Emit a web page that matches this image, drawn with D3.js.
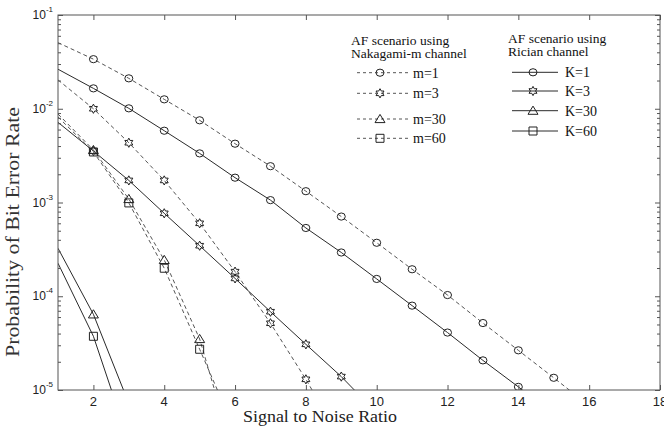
<!DOCTYPE html>
<html>
<head>
<meta charset="utf-8">
<script src="https://cdn.jsdelivr.net/npm/d3@7"></script>
<style>
  body { margin: 0; background: #fff; }
  svg { display: block; }
</style>
</head>
<body>
<svg id="plot" width="664" height="427"></svg>
<script>
// SNR grid and BER values
const snr = [1, 2, 3, 4, 5, 6, 7, 8, 9, 10, 11, 12, 13, 14, 15, 16];

const berNakagamiM1  = [0.0507, 0.0338, 0.0211, 0.0126, 0.00753, 0.00424, 0.00244, 0.00132, 7.08e-4, 3.72e-4, 1.94e-4, 1.03e-4, 5.18e-5, 2.65e-5, 1.35e-5, 6.8e-6];
const berNakagamiM3  = [0.0203, 0.0100, 0.00434, 0.00172, 6.0e-4, 1.83e-4, 5.15e-5, 1.30e-5, 2.9e-6];
const berNakagamiM30 = [0.00879, 0.00363, 1.09e-3, 2.44e-4, 3.5e-5, 1.8e-6];
const berNakagamiM60 = [0.00817, 0.00346, 9.9e-4, 1.99e-4, 2.72e-5, 3.7e-6];

const berRicianK1  = [0.0264, 0.0165, 0.0101, 0.00583, 0.00334, 0.00184, 0.00106, 5.35e-4, 2.93e-4, 1.53e-4, 7.94e-5, 4.10e-5, 2.07e-5, 1.08e-5, 5.5e-6];
const berRicianK3  = [0.00716, 0.00354, 0.00172, 7.67e-4, 3.46e-4, 1.55e-4, 6.84e-5, 3.07e-5, 1.39e-5, 5.7e-6];
const berRicianK30 = [3.25e-4, 6.41e-5, 7.2e-6];
const berRicianK60 = [2.25e-4, 3.74e-5, 2.8e-6];

const nakagamiLabels = ["m=1", "m=3", "m=30", "m=60"];
const ricianLabels = ["K=1", "K=3", "K=30", "K=60"];
const markerTypes = ["circle", "hexagram", "triangle", "square"];

const xTicks = [2, 4, 6, 8, 10, 12, 14, 16, 18];
const yTicks = [1e-5, 1e-4, 1e-3, 1e-2, 1e-1];
const yTickExp = ["-5", "-4", "-3", "-2", "-1"];

const series = [
  ...[berNakagamiM1, berNakagamiM3, berNakagamiM30, berNakagamiM60].map((v, i) =>
    ({ label: nakagamiLabels[i], marker: markerTypes[i], dashed: true, values: v })),
  ...[berRicianK1, berRicianK3, berRicianK30, berRicianK60].map((v, i) =>
    ({ label: ricianLabels[i], marker: markerTypes[i], dashed: false, values: v }))
];

const m = { left: 58, right: 660, top: 15, bottom: 390 };

const svg = d3.select("#plot");

const x = d3.scaleLinear().domain([1, 18]).range([m.left, m.right]);
const y = d3.scaleLog().domain([1e-5, 1e-1]).range([m.bottom, m.top]);

// marker shapes
function markerPath(type) {
  if (type === "square") return "M-4,-4H4V4H-4Z";
  if (type === "triangle") return "M0,-4.6L5,3.6L-5,3.6Z";
  // six pointed star
  const pts = [];
  for (let i = 0; i < 12; i++) {
    const a = (i * 30 - 90) * Math.PI / 180;
    const r = i % 2 ? 2.6 : 4.6;
    pts.push([r * Math.cos(a), r * Math.sin(a)]);
  }
  return "M" + pts.map(p => p[0].toFixed(2) + "," + p[1].toFixed(2)).join("L") + "Z";
}

function drawMarker(g, type, cx, cy) {
  if (type === "circle") {
    g.append("ellipse").attr("cx", cx).attr("cy", cy).attr("rx", 4).attr("ry", 3.6)
      .attr("fill", "none").attr("stroke", "#222").attr("stroke-width", 1);
  } else {
    g.append("path").attr("d", markerPath(type))
      .attr("transform", "translate(" + cx + "," + cy + ")")
      .attr("fill", "none").attr("stroke", "#222").attr("stroke-width", 1);
  }
}

svg.append("clipPath").attr("id", "clip")
  .append("rect").attr("x", m.left).attr("y", m.top)
  .attr("width", m.right - m.left).attr("height", m.bottom - m.top);

//----------------------------- curves -----------------------------
const line = d3.line().x(d => x(d[0])).y(d => y(d[1]));
const curves = svg.append("g").attr("clip-path", "url(#clip)");

series.forEach(s => {
  const pts = s.values.map((v, i) => [snr[i], v]);
  curves.append("path")
    .attr("d", line(pts))
    .attr("fill", "none")
    .attr("stroke", s.dashed ? "#555" : "#2a2a2a")
    .attr("stroke-width", 1)
    .attr("stroke-dasharray", s.dashed ? "4,3" : null);
  pts.filter(p => p[0] >= 2 && p[1] >= 1e-5)
    .forEach(p => drawMarker(curves, s.marker, x(p[0]), y(p[1])));
});

//----------------------------- axes -----------------------------
const axisColor = "#555";
const minor = [];
for (let e = -5; e < -1; e++) for (let k = 2; k <= 9; k++) minor.push(k * Math.pow(10, e));

function styleAxis(g) {
  g.select(".domain").remove();
  g.selectAll("line").attr("stroke", axisColor);
}

svg.append("g").attr("transform", "translate(0," + m.bottom + ")")
  .call(d3.axisBottom(x).tickValues(xTicks).tickSize(-5).tickFormat(""))
  .call(styleAxis);
svg.append("g").attr("transform", "translate(0," + m.top + ")")
  .call(d3.axisTop(x).tickValues(xTicks).tickSize(-5).tickFormat(""))
  .call(styleAxis);
svg.append("g").attr("transform", "translate(" + m.left + ",0)")
  .call(d3.axisLeft(y).tickValues(yTicks).tickSize(-5).tickFormat(""))
  .call(styleAxis);
svg.append("g").attr("transform", "translate(" + m.left + ",0)")
  .call(d3.axisLeft(y).tickValues(minor).tickSize(-3).tickFormat(""))
  .call(styleAxis);
svg.append("g").attr("transform", "translate(" + m.right + ",0)")
  .call(d3.axisRight(y).tickValues(yTicks).tickSize(-5).tickFormat(""))
  .call(styleAxis);
svg.append("g").attr("transform", "translate(" + m.right + ",0)")
  .call(d3.axisRight(y).tickValues(minor).tickSize(-3).tickFormat(""))
  .call(styleAxis);

svg.append("rect")
  .attr("x", m.left).attr("y", m.top)
  .attr("width", m.right - m.left).attr("height", m.bottom - m.top)
  .attr("fill", "none").attr("stroke", axisColor).attr("stroke-width", 1);

// x tick labels
svg.append("g").selectAll("text").data(xTicks).enter().append("text")
  .attr("x", d => x(d)).attr("y", m.bottom + 16)
  .attr("text-anchor", "middle")
  .attr("font-family", "Liberation Sans, Arial, sans-serif")
  .attr("font-size", 13).attr("fill", "#222")
  .text(d => d);

// y tick labels 10^n
const yLab = svg.append("g").selectAll("text").data(yTicks).enter().append("text")
  .attr("x", 53).attr("y", d => y(d) + 4)
  .attr("text-anchor", "end")
  .attr("font-family", "Liberation Sans, Arial, sans-serif")
  .attr("font-size", 12).attr("fill", "#222");
yLab.append("tspan").text("10");
yLab.append("tspan").attr("dy", -7).attr("font-size", 8).text((d, i) => yTickExp[i]);

// axis titles
svg.append("text")
  .attr("x", 320).attr("y", 422)
  .attr("text-anchor", "middle")
  .attr("font-family", "Liberation Serif, Times New Roman, serif")
  .attr("font-size", 16).attr("fill", "#222")
  .attr("textLength", 154).attr("lengthAdjust", "spacingAndGlyphs")
  .text("Signal to Noise Ratio");

svg.append("text")
  .attr("transform", "translate(19,232) rotate(-90)")
  .attr("text-anchor", "middle")
  .attr("font-family", "Liberation Serif, Times New Roman, serif")
  .attr("font-size", 18).attr("fill", "#333")
  .attr("textLength", 250).attr("lengthAdjust", "spacingAndGlyphs")
  .text("Probability of Bit Error Rate");

//----------------------------- legend -----------------------------
const LEG_FONT = "Liberation Serif, Times New Roman, serif";

function legendBlock(titles, tx, ty, labels, ys, lx0, lx1, mx, textX, dashed) {
  const g = svg.append("g");
  titles.forEach((t, i) => {
    g.append("text").attr("x", tx).attr("y", ty + i * 13)
      .attr("font-family", LEG_FONT).attr("font-size", 13.5).attr("fill", "#111")
      .text(t);
  });
  labels.forEach((lab, i) => {
    g.append("line").attr("x1", lx0).attr("x2", lx1).attr("y1", ys[i]).attr("y2", ys[i])
      .attr("stroke", dashed ? "#555" : "#2a2a2a").attr("stroke-width", 1)
      .attr("stroke-dasharray", dashed ? "3,3" : null);
    drawMarker(g, markerTypes[i], mx, ys[i]);
    g.append("text").attr("x", textX).attr("y", ys[i] + 5)
      .attr("font-family", LEG_FONT).attr("font-size", 14).attr("fill", "#111")
      .text(lab);
  });
}

legendBlock(["AF scenario using", "Nakagami-m channel"], 351, 45,
  nakagamiLabels, [72.7, 93.3, 119, 138.3], 357, 408, 380, 413, true);
legendBlock(["AF scenario using", "Rician channel"], 508, 43,
  ricianLabels, [72.3, 91, 110.7, 131], 512, 558, 533, 565, false);
</script>
</body>
</html>
